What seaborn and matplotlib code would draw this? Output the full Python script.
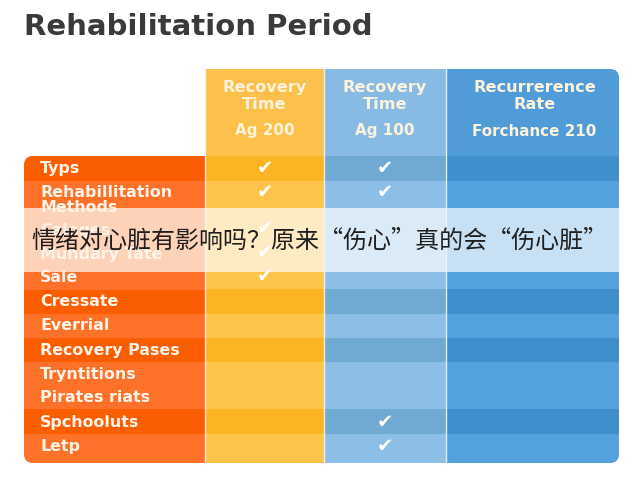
import numpy as np
import seaborn as sns
from matplotlib import pyplot as plt
from matplotlib.colors import ListedColormap
from matplotlib.patches import FancyBboxPatch, Rectangle
from matplotlib.transforms import Affine2D

W, H = 640, 480

title = "Rehabilitation Period"
overlay_text = "情绪对心脏有影响吗？原来“伤心”真的会“伤心脏”"
row_labels = ["Typs", "Rehabillitation\nMethods", "Caloges", "Mundary Tate", "Sale", "Cressate",
              "Everrial", "Recovery Pases", "Tryntitions", "Pirates riats", "Spchooluts", "Letp"]
row_label_y = [169, 200, 230, 254, 277, 301, 326, 350, 374, 398, 422, 447]
row_heights = [25, 36, 24, 24, 25, 25, 24, 24, 24, 23, 25, 29]
row_dark = [1, 0, 0, 0, 0, 1, 0, 1, 0, 0, 1, 0]
col_headers = ["Recovery\nTime", "Recovery\nTime", "Recurrerence\nRate"]
col_subheaders = ["Ag 200", "Ag 100", "Forchance 210"]
checks_a = [1, 1, 1, 1, 1, 0, 0, 0, 0, 0, 0, 0]
checks_b = [1, 1, 0, 0, 0, 0, 0, 0, 0, 0, 1, 1]
checks_c = [0, 0, 0, 0, 0, 0, 0, 0, 0, 0, 0, 0]
check_y = [168, 192, 228, 252, 277, 301, 326, 350, 374, 398, 422, 446]

# light, dark, header
label_colors = ["#fd7128", "#fa5e00", "#ffffff"]
col_colors = [["#fec44b", "#fbb423", "#fdc04a"],
              ["#8dbfe6", "#70aad3", "#88bbe3"],
              ["#53a2de", "#3e8fcc", "#4f9cd9"]]
col_edges = [205, 324, 446, 619]

sns.set_theme(style="white")
plt.rcParams['font.family'] = ['DejaVu Sans']

fig = plt.figure(figsize=(6.4, 4.8), dpi=100)
px = Affine2D().scale(1 / W, -1 / H).translate(0, 1) + fig.transFigure


def cell_axes(x0, x1, y0, y1):
    return fig.add_axes([x0 / W, 1 - y1 / H, (x1 - x0) / W, (y1 - y0) / H])


def column(values, colors, x0, x1, y0, y1, clip=None):
    ax = cell_axes(x0, x1, y0, y1)
    sns.heatmap(values.reshape(-1, 1), ax=ax, cmap=ListedColormap(colors), vmin=0, vmax=2,
                cbar=False, xticklabels=False, yticklabels=False)
    if clip is not None:
        patch = FancyBboxPatch((clip[0], clip[1]), clip[2], clip[3], boxstyle="round,pad=0,rounding_size=9",
                               transform=px)
        ax.collections[0].set_clip_path(patch)
    ax.set_axis_off()


body = np.repeat(row_dark, row_heights)
with_header = np.concatenate([np.full(87, 2), body])

column(body, label_colors, 24, 205, 156, 463, clip=(24, 156, 300, 307))
column(with_header, col_colors[0], col_edges[0], col_edges[1], 69, 463)
column(with_header, col_colors[1], col_edges[1], col_edges[2], 69, 463)
column(with_header, col_colors[2], col_edges[2], col_edges[3], 69, 463, clip=(400, 69, 219, 394))

for x in col_edges[:3]:
    fig.add_artist(plt.Line2D([x, x], [69, 463], transform=px, color="#f4f4f4", lw=1.0, alpha=0.9))

fig.text(24, 27, title, transform=px, fontsize=21, fontweight="bold", color="#3a3a3a", va="center", ha="left")

for i in range(3):
    cx = (col_edges[i] + col_edges[i + 1]) / 2 + (2 if i == 2 else 0)
    fig.text(cx, 96, col_headers[i], transform=px, fontsize=11.6, fontweight="bold", color="#fdf3dc",
             ha="center", va="center", linespacing=1.1)
    fig.text(cx, 131, col_subheaders[i], transform=px, fontsize=10.9, fontweight="bold", color="#fdf3dc",
             ha="center", va="center")

for label, y in zip(row_labels, row_label_y):
    fig.text(40, y, label, transform=px, fontsize=11.4, fontweight="bold", color="#fff4ea", ha="left",
             va="center", linespacing=0.95)

for checks, i in zip([checks_a, checks_b, checks_c], range(3)):
    cx = (col_edges[i] + col_edges[i + 1]) / 2
    for flag, y in zip(checks, check_y):
        if flag:
            fig.text(cx, y, "\u2714", transform=px, fontsize=14, color="white", ha="center", va="center")

fig.add_artist(Rectangle((0, 208), W, 64, transform=px, facecolor="white", edgecolor="none", alpha=0.68))
fig.text(319, 241, overlay_text, transform=px, fontsize=17.3, color="#1f1f1f", ha="center",
         va="center", family=['Noto Sans CJK SC', 'DejaVu Sans'], fontweight="light")

fig.savefig("out.png", dpi=100)
